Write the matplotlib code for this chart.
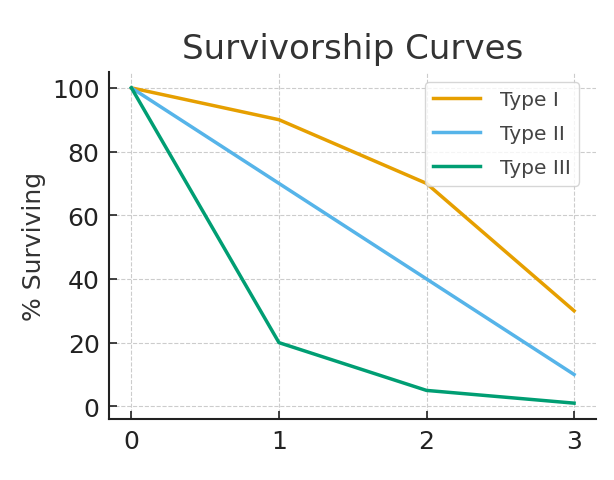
import matplotlib
matplotlib.use("Agg")
import matplotlib.pyplot as plt

# life stage / age
ages = [0, 1, 2, 3]

# % surviving for each curve type
type_1 = [100, 90, 70, 30]
type_2 = [100, 70, 40, 10]
type_3 = [100, 20, 5, 1]

fig = plt.figure(figsize=(6.14, 4.81), dpi=100)
ax = fig.add_axes([0.178, 0.127, 0.793, 0.721])

ax.plot(ages, type_1, color="#E69F00", lw=2.5, label="Type I")
ax.plot(ages, type_2, color="#56B4E9", lw=2.5, label="Type II")
ax.plot(ages, type_3, color="#009E73", lw=2.5, label="Type III")

ax.set_title("Survivorship Curves", fontsize=24.5, color="#333333", pad=10)
ax.set_ylabel("% Surviving", fontsize=18, color="#333333", labelpad=4)
ax.set_xticks(ages)
ax.set_yticks(range(0, 101, 20))
ax.tick_params(direction="in", labelsize=18, colors="#222222", length=6, width=1.2, pad=7)

ax.grid(True, linestyle="--", color="#cccccc", lw=0.8)
for s in ["top", "right"]:
    ax.spines[s].set_visible(False)
for s in ["left", "bottom"]:
    ax.spines[s].set_linewidth(1.5)
    ax.spines[s].set_color("#222222")

leg = ax.legend(loc="upper right", bbox_to_anchor=(0.985, 1.0), fontsize=14.5,
                frameon=True, handlelength=2.3, labelspacing=0.75, handletextpad=1.0)
for t in leg.get_texts():
    t.set_color("#444444")

plt.savefig("out.png")
